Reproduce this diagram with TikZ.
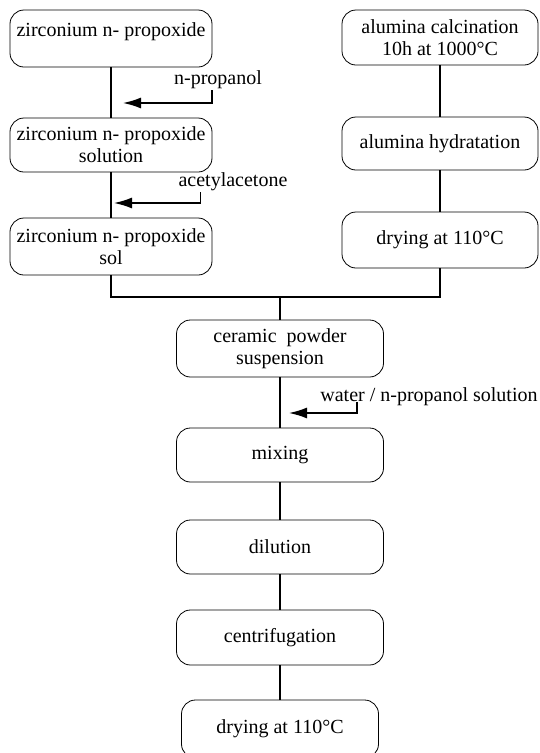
\documentclass[tikz,border=0pt]{standalone}
\usepackage{fontspec}
\setmainfont{Liberation Serif}
\usetikzlibrary{arrows.meta}

\begin{document}
\begin{tikzpicture}[x=1pt,y=-1pt]
  \tikzset{ st/.style={draw,rounded corners=14pt,line width=0.8pt,align=center,
      inner sep=2pt,font=\fontsize{20}{22}\selectfont},
    lb/.style={inner sep=1pt,font=\fontsize{20}{22}\selectfont},
    ln/.style={line width=1.5pt},
    ar/.style={line width=1.5pt,-{Latex[length=18pt,width=11pt]}},
  }
  \useasboundingbox (0,0) rectangle (539,753);

  % zirconium branch
  \node[st,minimum width=202pt,minimum height=57pt,text height=13pt,text depth=18pt] (Z1) at (111,38.5) {zirconium n- propoxide};
  \node[st,minimum width=202pt,minimum height=54pt] (Z2) at (111,145) {zirconium n- propoxide\\solution};
  \node[st,minimum width=202pt,minimum height=57pt] (Z3) at (111,246.5) {zirconium n- propoxide\\sol};

  % alumina branch
  \node[st,minimum width=196pt,minimum height=55pt] (A1) at (440,37.5) {alumina calcination\\10h at 1000°C};
  \node[st,minimum width=196pt,minimum height=53pt] (A2) at (440,143.5) {alumina hydratation};
  \node[st,minimum width=196pt,minimum height=56pt] (A3) at (440,240) {drying at 110°C};

  % common line
  \node[st,minimum width=207pt,minimum height=57pt] (C1) at (280,348.5) {ceramic\ \ powder\\suspension};
  \node[st,minimum width=207pt,minimum height=54pt] (C2) at (280,455) {mixing};
  \node[st,minimum width=207pt,minimum height=54pt] (C3) at (280,547) {dilution};
  \node[st,minimum width=207pt,minimum height=55pt] (C4) at (280,637.5) {centrifugation};
  \node[st,minimum width=197pt,minimum height=58pt] (C5) at (280,729) {drying at 110°C};

  % additions
  \node[lb] (np) at (218,80) {n-propanol};
  \node[lb] (ac) at (233,182) {acetylacetone};
  \node[lb] (wp) at (429,397) {water / n-propanol solution};
  \coordinate (t1) at (123,103);
  \coordinate (t2) at (114,203);
  \coordinate (t3) at (289,413);
  \coordinate (J) at (280,297);

  \draw[ln] (Z1) -- (Z2);
  \draw[ln] (Z2) -- (Z3);
  \draw[ln] (A1) -- (A2);
  \draw[ln] (A2) -- (A3);
  \draw[ln] (Z3.south) |- (J) -| (A3.south);
  \draw[ln] (J) -- (C1);
  \draw[ln] (C1) -- (C2);
  \draw[ln] (C2) -- (C3);
  \draw[ln] (C3) -- (C4);
  \draw[ln] (C4) -- (C5);

  \draw[ar] ([xshift=-6pt]np.south) |- (t1);
  \draw[ar] ([xshift=23pt]ac.south west) |- (t2);
  \draw[ar] ([xshift=38pt]wp.base west) |- (t3);
\end{tikzpicture}
\end{document}
